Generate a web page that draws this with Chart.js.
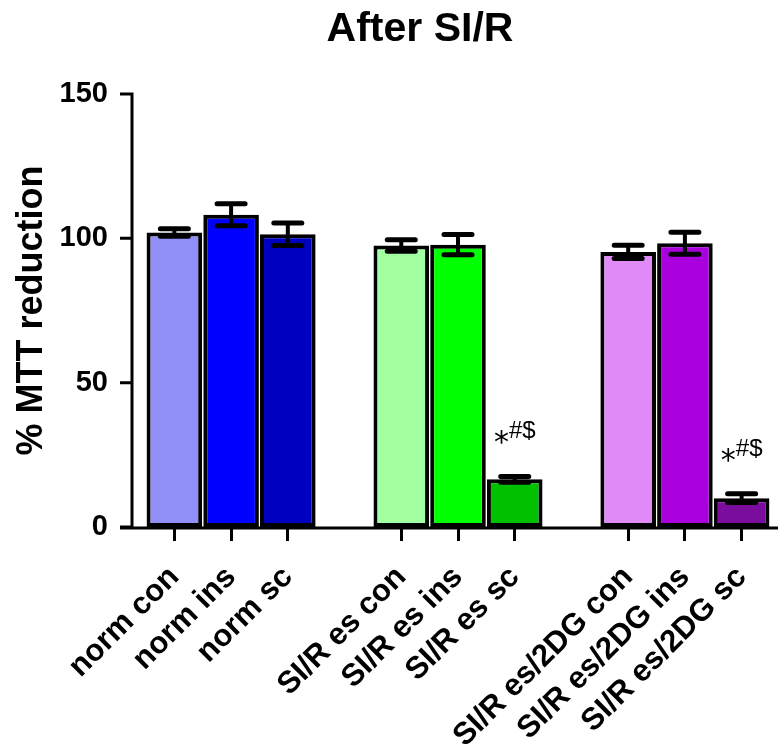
<!DOCTYPE html>
<html>
<head>
<meta charset="utf-8">
<title>After SI/R</title>
<script src="https://cdn.jsdelivr.net/npm/chart.js@4.4.1/dist/chart.umd.min.js"></script>
<style>
  html, body { margin: 0; padding: 0; background: #fff; }
  #wrap { position: relative; width: 778px; height: 751px; }
  #chart-title {
    position: absolute; top: 4px; left: 420px; transform: translateX(-50%);
    margin: 0; line-height: 1; white-space: nowrap;
    font: bold 41px 'Liberation Sans', Arial, sans-serif; color: #000;
  }
</style>
</head>
<body>
<div id="wrap">
  <h1 id="chart-title">After SI/R</h1>
  <canvas id="mttChart"></canvas>
</div>
<script>
// groups are separated by an empty slot
const categories = ['norm con', 'norm ins', 'norm sc', '',
    'SI/R es con', 'SI/R es ins', 'SI/R es sc', '',
    'SI/R es/2DG con', 'SI/R es/2DG ins', 'SI/R es/2DG sc'];
const meanValues = [102, 108.2, 101.4, null, 97.5, 97.8, 16.5, null, 95.3, 98.3, 10];
const semValues = [1.3, 3.8, 3.9, null, 2, 3.5, 1, null, 2.3, 3.8, 1.5];
const barColors = ['#8f8ff7', '#0000ff', '#0000c0', null,
    '#a2ffa2', '#00ff00', '#00c000', null,
    '#df8af7', '#aa00dd', '#7a0c9e'];
const markers = ['', '', '', '', '', '', '*#$', '', '', '', '*#$'];
const yTicks = [0, 50, 100, 150];

Chart.defaults.font.family = "'Liberation Sans', Arial, sans-serif";
Chart.defaults.color = '#000';

// Prism-style axes: y axis sits a bit left of the first bar
const axisPlugin = {
    id: 'prismAxes',
    afterDatasetsDraw(chart) {
        const { ctx, chartArea, scales: { y } } = chart;
        const axisX = chartArea.left - 14;
        const zeroY = y.getPixelForValue(0);
        ctx.save();
        ctx.strokeStyle = '#000';
        ctx.lineWidth = 3;
        ctx.lineCap = 'butt';
        ctx.beginPath();
        ctx.moveTo(axisX, y.getPixelForValue(150) - 1.5);
        ctx.lineTo(axisX, zeroY + 1.5);
        yTicks.forEach(v => {
            const py = y.getPixelForValue(v);
            ctx.moveTo(axisX - 12, py);
            ctx.lineTo(axisX, py);
        });
        ctx.moveTo(axisX - 12, zeroY + 1);
        ctx.lineTo(chart.width, zeroY + 1);
        ctx.stroke();
        ctx.restore();
    }
};

const errorBarPlugin = {
    id: 'errorBars',
    afterDatasetsDraw(chart) {
        const { ctx, scales: { y } } = chart;
        const meta = chart.getDatasetMeta(0);
        ctx.save();
        ctx.strokeStyle = '#000';
        ctx.fillStyle = '#000';
        meta.data.forEach((bar, i) => {
            const v = meanValues[i];
            const e = semValues[i];
            if (v == null) return;
            const top = y.getPixelForValue(v + e);
            const bottom = y.getPixelForValue(v - e);
            ctx.lineCap = 'butt';
            ctx.lineWidth = 4;
            ctx.beginPath();
            ctx.moveTo(bar.x, top);
            ctx.lineTo(bar.x, bottom);
            ctx.stroke();
            ctx.lineCap = 'round';
            ctx.lineWidth = 5;
            ctx.beginPath();
            ctx.moveTo(bar.x - 14, top);
            ctx.lineTo(bar.x + 14, top);
            ctx.moveTo(bar.x - 14, bottom);
            ctx.lineTo(bar.x + 14, bottom);
            ctx.stroke();

            // significance marks above the bar
            if (markers[i]) {
                const base = top - 38;
                const star = markers[i].slice(0, 1);
                const rest = markers[i].slice(1);
                ctx.font = "30px 'DejaVu Sans', sans-serif";
                const starW = ctx.measureText(star).width;
                ctx.font = "24px 'Liberation Sans', Arial, sans-serif";
                const restW = ctx.measureText(rest).width;
                const x0 = bar.x - (starW + restW) / 2;
                ctx.textAlign = 'left';
                ctx.textBaseline = 'alphabetic';
                ctx.fillText(rest, x0 + starW, base);
                ctx.font = "30px 'DejaVu Sans', sans-serif";
                ctx.fillText(star, x0, base + 14);
            }
        });
        ctx.restore();
    }
};

new Chart(document.getElementById('mttChart'), {
    type: 'bar',
    data: {
        labels: categories,
        datasets: [{
            data: meanValues,
            backgroundColor: barColors,
            borderColor: '#000',
            borderWidth: 4,
            borderSkipped: false,
            categoryPercentage: 1,
            barPercentage: 0.98
        }]
    },
    options: {
        responsive: true,
        maintainAspectRatio: false,
        animation: false,
        layout: { padding: { top: 94, right: 8, bottom: 0, left: 0 } },
        plugins: {
            legend: { display: false },
            tooltip: { enabled: false }
        },
        scales: {
            x: {
                border: { display: false },
                grid: {
                    drawOnChartArea: false,
                    offset: false,
                    tickLength: 14,
                    lineWidth: 3,
                    color: ctx => categories[ctx.index] ? '#000' : 'rgba(0,0,0,0)'
                },
                ticks: {
                    color: '#000',
                    font: { size: 31, weight: 'bold' },
                    minRotation: 45,
                    maxRotation: 45,
                    autoSkip: false,
                    padding: 18
                },
                afterFit: scale => {
                    scale.height = 224;
                    scale.paddingLeft = 0;
                    scale.paddingRight = 0;
                }
            },
            y: {
                min: 0,
                max: 150,
                afterBuildTicks: scale => { scale.ticks = yTicks.map(v => ({ value: v })); },
                border: { display: false },
                grid: { display: false },
                ticks: {
                    color: '#000',
                    font: { size: 29, weight: 'bold' },
                    padding: 30
                },
                title: {
                    display: true,
                    text: '% MTT reduction',
                    color: '#000',
                    font: { size: 36, weight: 'bold' },
                    padding: { top: 10, bottom: 0 }
                },
                afterFit: scale => { scale.width = 146; }
            }
        }
    },
    plugins: [axisPlugin, errorBarPlugin]
});
</script>
</body>
</html>
